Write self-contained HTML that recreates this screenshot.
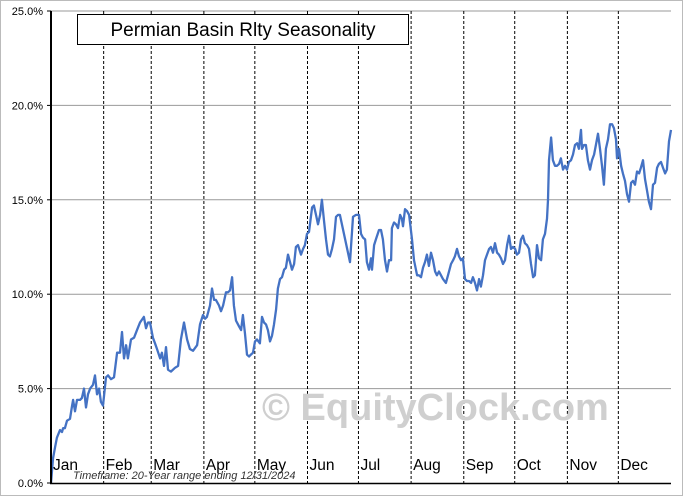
<!DOCTYPE html>
<html><head><meta charset="utf-8"><style>
body{margin:0;background:#fff}
svg{display:block;font-family:"Liberation Sans",sans-serif}
</style></head><body>
<svg id="chart" width="683" height="496" viewBox="0 0 683 496">
<rect x="0.5" y="0.5" width="682" height="495" fill="#fff" stroke="#bbb"/>
<g id="grid"></g><g id="months"></g>
<text x="262" y="420" font-size="38" font-weight="bold" fill="#cfcfcf">© EquityClock.com</text>
<g id="yaxis"></g>
<path id="series" fill="none" stroke="#4472c4" stroke-width="2.3" stroke-linejoin="round"/>
<line x1="51" y1="11" x2="51" y2="484" stroke="#000" stroke-width="2"/>
<line x1="50" y1="483.5" x2="671" y2="483.5" stroke="#000" stroke-width="1.5"/>
<text x="73" y="479" font-size="11" font-style="italic" fill="#333">Timeframe: 20-Year range ending 12/31/2024</text>
<rect x="77.5" y="14.5" width="331" height="30" fill="#fff" stroke="#000"/>
<text x="243" y="36" font-size="19" text-anchor="middle">Permian Basin Rlty Seasonality</text>
</svg>
<script>
const days=[0,1.2,2.4,3.5,5.3,6.5,7.1,8.2,9.4,11.2,12.4,13,14.1,15.3,17.1,18.2,19.4,20.6,21.8,23,24.7,25.9,27.1,28.3,29.4,30.6,32.4,33.6,35.3,37.1,38.9,40.6,41.8,43,44.2,45.3,47.1,48.9,50.6,52.4,54.7,55.9,57.1,58.3,60,61.2,62.4,64.2,65.3,66.5,67.7,68.9,70.6,73,74.8,76.5,78.3,80.1,81.8,83.6,86,87.7,89.5,90.7,91.8,93.6,94.8,96,97.1,98.9,100.1,101.3,103,104.2,105.4,106.6,107.7,108.9,110.7,111.9,113,114.2,115.4,116.6,117.7,118.9,120.1,121.3,123,124.2,125.4,126.6,127.7,128.9,130.1,131.3,132.5,133.6,134.8,136,137.2,138.3,139.5,140.7,141.9,143.1,144.2,145.4,147.2,148.4,149.5,150.7,151.9,153.7,154.8,156,157.2,158.4,159.5,160.7,161.9,163.1,164.2,165.4,166.6,167.8,169,170.1,176,177.8,179.5,181.3,182.5,183.7,184.9,186,187.2,188.4,189,190.2,191.3,193.1,194.3,195.4,196.6,197.8,199,200.2,200.7,201.9,203.1,204.3,205.5,206.6,207.2,208.4,209.6,210.8,212.5,213.7,215.5,216.6,217.8,219,220.2,221.3,222.5,223.7,224.9,226.1,227.2,228.4,229.6,230.8,232.5,233.7,235.5,236.7,237.8,239,240.2,241.4,242.5,243.7,244.9,246.1,247.3,248.4,249.6,250.8,252,253.1,254.3,255.5,256.7,257.9,259,260.2,261.4,262.6,263.7,264.9,266.1,267.3,268.5,269.6,270.8,272,273.2,274.3,275.5,276.7,277.9,279,280.2,281.4,282.6,283.8,284.9,286.1,287.3,288.5,289.6,290.8,292,292.6,293.2,294.4,295.5,296.7,297.9,299.1,300.2,301.4,302.6,303.8,304.9,306.1,307.3,308.5,309.7,310.8,312,312.6,313.8,314.9,316.1,317.3,318.5,319.7,320.8,322,323.2,324.4,325.5,326.7,327.9,329.1,330.3,331.4,332.6,333.2,334.4,335.6,336.7,337.9,339.1,340.3,341.5,342.6,343.8,345,346.2,347.3,348.5,349.7,350.9,352,353.2,354.4,355.6,356.8,357.9,359.1,360.3,361.5,362.6,363.8,365];
const values=[0,1.3,1.9,2.4,2.8,2.7,2.9,2.9,3.3,3.4,4.1,4.4,3.8,4.4,4.4,4.5,5.0,4.0,4.7,5.0,5.2,5.7,4.7,5.0,4.3,4.1,5.6,5.7,5.5,5.6,6.9,6.9,8.0,6.6,7.3,6.6,7.6,7.7,8.1,8.5,8.8,8.2,8.5,8.5,7.7,7.4,7.1,6.6,6.9,6.2,7.2,6.0,5.9,6.1,6.2,7.6,8.5,7.6,7.1,7.0,7.3,8.4,8.9,8.7,8.8,9.4,10.3,9.7,9.7,9.4,9.1,9.4,10.1,10.1,10.2,10.9,9.4,8.6,8.3,8.1,8.9,7.9,6.8,6.7,6.8,6.9,7.5,7.6,7.4,8.8,8.5,8.4,8.1,7.5,7.8,8.4,9.2,10.3,10.8,10.9,11.3,11.4,12.1,11.7,11.3,11.6,12.5,12.6,12.1,12.4,12.6,13.2,13.3,14.6,14.7,14.2,13.7,14.2,15.0,13.9,12.9,12.1,12.0,12.4,12.9,14.1,14.2,14.2,11.7,14.1,14.2,14.2,13.2,13.0,12.9,11.7,11.3,11.9,11.3,12.6,12.9,13.4,13.4,12.9,11.8,11.2,11.8,11.8,13.5,13.8,13.7,13.5,14.2,14.0,13.6,14.5,14.4,14.2,12.9,11.8,11.0,11.0,10.9,11.4,11.7,12.1,11.5,12.2,11.8,11.2,11.0,11.2,11.0,10.8,10.6,11.0,11.6,11.8,12.0,12.4,12.0,11.8,11.9,10.8,10.7,10.7,10.6,10.9,10.6,10.2,10.8,10.4,11.0,11.8,12.1,12.4,12.5,12.2,12.7,12.2,12.1,11.9,11.6,11.8,12.6,13.1,12.4,12.5,12.4,12.1,12.2,12.9,13.1,12.7,12.6,12.4,11.6,10.9,11.0,12.6,11.9,11.8,12.9,13.2,14.0,15.0,17.1,18.3,17.1,16.8,16.8,16.9,17.2,16.6,16.8,16.6,17.0,17.1,17.4,17.9,18.0,17.7,18.7,17.7,17.9,17.9,17.1,16.6,17.1,17.4,17.9,18.5,17.7,16.8,15.8,17.7,18.2,19.0,19.0,18.8,18.2,17.2,17.7,16.8,16.4,16.0,15.3,14.9,15.9,16.0,15.8,16.5,16.4,16.7,17.1,16.1,15.5,14.9,14.5,15.8,15.9,16.7,16.9,17.0,16.7,16.4,16.6,18.1,18.7];
const yTicks=[0,5,10,15,20,25];
const yTickLabels=["0.0%","5.0%","10.0%","15.0%","20.0%","25.0%"];
const monthStarts=[0,31,59,90,120,151,181,212,243,273,304,334,365];
const monthNames=["Jan","Feb","Mar","Apr","May","Jun","Jul","Aug","Sep","Oct","Nov","Dec"];
const NS="http://www.w3.org/2000/svg";
const X0=51,X1=671,Y0=483,Y1=11;
const xs=d=>X0+d/365*(X1-X0);
const ys=v=>Y0-v/25*(Y0-Y1);
const grid=document.getElementById('grid'),yax=document.getElementById('yaxis'),mg=document.getElementById('months');
yTicks.forEach((t,i)=>{
 const y=ys(t);
 if(t>0){const l=document.createElementNS(NS,'line');
 
 
 l.setAttribute('x1',X0);l.setAttribute('x2',X1);l.setAttribute('y1',y);l.setAttribute('y2',y);
 l.setAttribute('stroke','#999');l.setAttribute('stroke-width','1');grid.appendChild(l);}
 const tk=document.createElementNS(NS,'line');
 
 
 tk.setAttribute('x1',X0-4);tk.setAttribute('x2',X0);tk.setAttribute('y1',y);tk.setAttribute('y2',y);tk.setAttribute('stroke','#000');yax.appendChild(tk);
 const tx=document.createElementNS(NS,'text');
 
 
 tx.setAttribute('x',X0-8);tx.setAttribute('y',y+4);tx.setAttribute('font-size','11');tx.setAttribute('text-anchor','end');
 tx.textContent=yTickLabels[i];yax.appendChild(tx);
});
monthNames.forEach((m,i)=>{
 if(i>0){const l=document.createElementNS(NS,'line');
 
 
 const x=xs(monthStarts[i]);
 l.setAttribute('x1',x);l.setAttribute('x2',x);l.setAttribute('y1',Y1);l.setAttribute('y2',Y0);
 l.setAttribute('stroke','#000');l.setAttribute('stroke-dasharray','3,2');l.setAttribute('stroke-width','1');mg.appendChild(l);}
 const tx=document.createElementNS(NS,'text');
 
 
 tx.setAttribute('x',xs(monthStarts[i])+2);tx.setAttribute('y',470);
 tx.setAttribute('font-size','15.5');tx.setAttribute('text-anchor','start');tx.textContent=m;mg.appendChild(tx);
});
document.getElementById('series').setAttribute('d',values.map((v,i)=>(i?'L':'M')+xs(days[i]).toFixed(1)+','+ys(v).toFixed(1)).join(''));
</script>
</body></html>
